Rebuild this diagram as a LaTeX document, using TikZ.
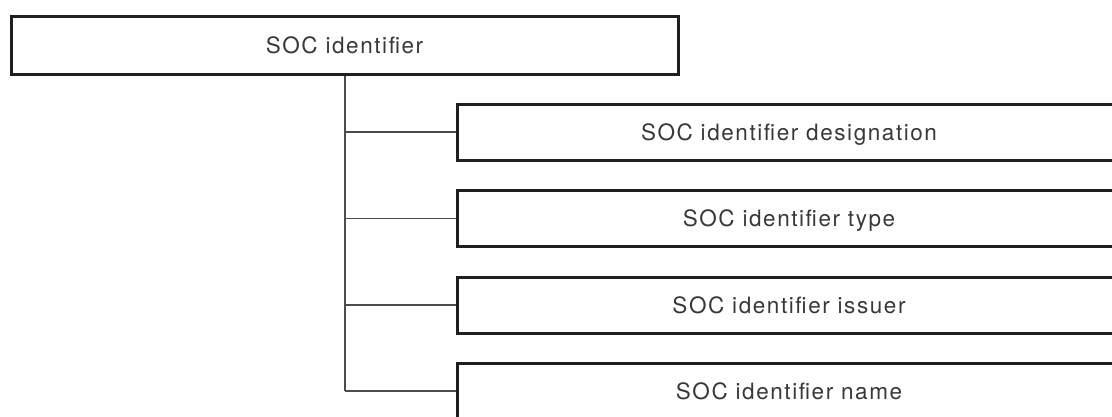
\documentclass[tikz,border=0pt]{standalone}
\usepackage{fontspec}
\setmainfont{TeX Gyre Heros}
\begin{document}
\begin{tikzpicture}[x=1pt,y=1pt,
  boxstyle/.style={draw=black!88, line width=3pt, rectangle, inner sep=0pt,
    text=black!78, font=\fontsize{22.5}{26}\selectfont\addfontfeatures{LetterSpace=7},
    text height=16pt, text depth=0pt},
  linkstyle/.style={draw=black!70, line width=1.3pt}]
\useasboundingbox (0,0) rectangle (1112,-416);
\clip (0,0) rectangle (1112,-416);
\node[boxstyle, minimum width=667pt, minimum height=58pt] (top) at (344.5,-45) {SOC identifier};
\node[boxstyle, minimum width=664pt, minimum height=56pt] (c1) at (789,-132) {SOC identifier designation};
\node[boxstyle, minimum width=664pt, minimum height=56pt] (c2) at (789,-218.5) {SOC identifier type};
\node[boxstyle, minimum width=664pt, minimum height=56pt] (c3) at (789,-305) {SOC identifier issuer};
\node[boxstyle, minimum width=664pt, minimum height=56pt] (c4) at (789,-391) {SOC identifier name};
\coordinate (s1) at (345,-132);
\coordinate (s2) at (345,-218.5);
\coordinate (s3) at (345,-305);
\coordinate (s4) at (345,-391);
\draw[linkstyle] (top.south -| s1) -- (s4);
\draw[linkstyle] (s1) -- (c1.west);
\draw[linkstyle] (s2) -- (c2.west);
\draw[linkstyle] (s3) -- (c3.west);
\draw[linkstyle] (s4) -- (c4.west);
\end{tikzpicture}
\end{document}
